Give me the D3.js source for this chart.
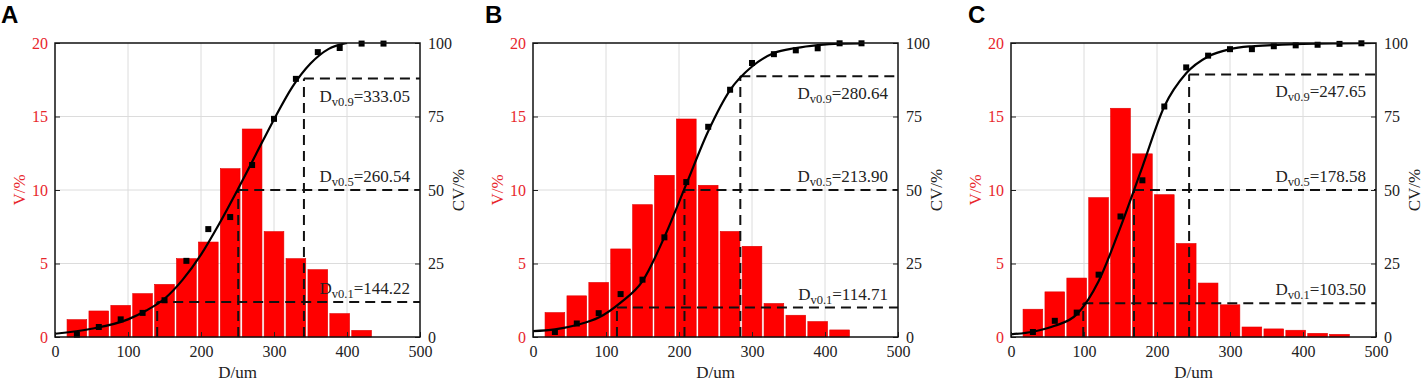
<!DOCTYPE html>
<html>
<head>
<meta charset="utf-8">
<script src="https://cdn.jsdelivr.net/npm/d3@7"></script>
<style>
  body { margin: 0; background: #fff; }
  text { font-family: "Liberation Serif", "Times New Roman", serif; }
</style>
</head>
<body>
<div id="chart"></div>
<script>
// bar centres (um) and volume fractions V/%
const binsA = [30, 60, 90, 120, 150, 180, 210, 240, 270, 300, 330, 360, 390, 420];
const binsB = [30, 60, 90, 120, 150, 180, 210, 240, 270, 300, 330, 360, 390, 420];
const binsC = [30, 60, 90, 120, 150, 180, 210, 240, 270, 300, 330, 360, 390, 420, 450];
const volA = [1.18, 1.77, 2.15, 2.95, 3.58, 5.33, 6.46, 11.45, 14.15, 7.17, 5.33, 4.58, 1.59, 0.45];
const volB = [1.66, 2.80, 3.71, 5.99, 9.0, 11.0, 14.83, 10.32, 7.18, 6.17, 2.28, 1.48, 1.05, 0.48];
const volC = [1.89, 3.07, 4.01, 9.48, 15.56, 12.46, 9.68, 6.36, 3.67, 2.19, 0.68, 0.55, 0.46, 0.25, 0.18];

// cumulative volume CV/% (square markers)
const cvXA = [30, 60, 90, 120, 150, 180, 210, 240, 270, 300, 330, 360, 390, 420, 450];
const cvXB = [30, 60, 90, 120, 150, 180, 210, 240, 270, 300, 330, 360, 390, 420, 450];
const cvXC = [30, 60, 90, 120, 150, 180, 210, 240, 270, 300, 330, 360, 390, 420, 450, 480];
const cvA = [0.8, 3.4, 6, 8.2, 12.5, 25.9, 36.7, 40.8, 58.5, 74.2, 87.8, 96.9, 98.3, 99.8, 99.8];
const cvB = [1.7, 4.6, 8.1, 14.6, 19.5, 33.9, 52.7, 71.5, 84.1, 93.2, 96.2, 97.5, 98.2, 99.9, 99.9];
const cvC = [1.7, 5.5, 8.3, 21.2, 41.0, 53.3, 78.4, 91.7, 95.7, 97.9, 97.9, 98.9, 99.2, 99.4, 99.7, 99.9];

// fitted curve
const fitXA = [0, 50, 100, 125, 150, 175, 200, 225, 250, 275, 300, 325, 350, 375, 400];
const fitA = [1.1, 2.8, 6, 9, 13, 19.5, 28, 38.5, 50, 62, 74, 85, 93, 98, 100];
const fitXB = [0, 30, 60, 90, 120, 150, 180, 210, 240, 270, 300, 330, 360, 390, 420, 450];
const fitB = [2.0, 2.6, 4.1, 6.6, 11.7, 19, 34, 52, 70, 84, 92, 96.6, 98.3, 99.3, 99.8, 99.9];
const fitXC = [0, 30, 60, 90, 120, 150, 180, 210, 240, 270, 300, 330, 360, 400, 450, 500];
const fitC = [0.9, 1.8, 3.8, 7.7, 19, 37.4, 57.9, 78.4, 89.7, 95.4, 97.9, 98.9, 99.3, 99.7, 99.9, 100];

// characteristic diameters: dashed guide positions and label texts
const dSubs = ["v0.1", "v0.5", "v0.9"];
const dLevelA = [11.9, 50, 87.9], dXA = [140, 251, 341], dTextA = ["144.22", "260.54", "333.05"];
const dLevelB = [10.0, 50, 88.7], dXB = [115, 207.5, 284], dTextB = ["114.71", "213.90", "280.64"];
const dLevelC = [11.5, 50, 89.3], dXC = [99, 168.5, 244], dTextC = ["103.50", "178.58", "247.65"];

const xTicks = [0, 100, 200, 300, 400, 500];
const vTicks = [0, 5, 10, 15, 20];
const cvTicks = [0, 25, 50, 75, 100];

const panels = [
  {letter: "A", bins: binsA, vol: volA, cvX: cvXA, cv: cvA, fitX: fitXA, fit: fitA, dLevel: dLevelA, dX: dXA, dText: dTextA},
  {letter: "B", bins: binsB, vol: volB, cvX: cvXB, cv: cvB, fitX: fitXB, fit: fitB, dLevel: dLevelB, dX: dXB, dText: dTextB},
  {letter: "C", bins: binsC, vol: volC, cvX: cvXC, cv: cvC, fitX: fitXC, fit: fitC, dLevel: dLevelC, dX: dXC, dText: dTextC}
];

const red = "#e8262b";
const serif = "'Liberation Serif', 'Times New Roman', serif";
const svg = d3.select("#chart").append("svg")
  .attr("width", 1424)
  .attr("height", 383);

const plotLeft = [55, 533, 1011];
const letterX = [1, 485, 968];
const plotTop = 43, plotBottom = 337, w = 365;
const h = plotBottom - plotTop;

const x = d3.scaleLinear().domain([0, 500]).range([0, w]);
const yV = d3.scaleLinear().domain([0, 20]).range([h, 0]);
const yCV = d3.scaleLinear().domain([0, 100]).range([h, 0]);

panels.forEach((p, i) => {
  svg.append("text")
    .attr("x", letterX[i])
    .attr("y", 23)
    .style("font-family", "'Liberation Sans', Arial, sans-serif")
    .style("font-weight", "bold")
    .style("font-size", "24px")
    .text(p.letter);

  const g = svg.append("g").attr("transform", `translate(${plotLeft[i]},${plotTop})`);

  svg.append("clipPath").attr("id", `clip${i}`)
    .append("rect").attr("width", w).attr("height", h);

  /*
  Grid
  */
  g.selectAll(".gx").data([100, 200, 300, 400]).enter().append("line")
    .attr("x1", d => x(d)).attr("x2", d => x(d))
    .attr("y1", 0).attr("y2", h)
    .attr("stroke", "#dcdcdc").attr("stroke-width", 1);
  g.selectAll(".gy").data([5, 10, 15]).enter().append("line")
    .attr("x1", 0).attr("x2", w)
    .attr("y1", d => yV(d)).attr("y2", d => yV(d))
    .attr("stroke", "#dcdcdc").attr("stroke-width", 1);

  /*
  Bars
  */
  const bw = x(27) - x(0);
  g.selectAll(".bar").data(p.vol).enter().append("rect")
    .attr("x", (d, j) => x(p.bins[j]) - bw / 2)
    .attr("y", d => yV(d))
    .attr("width", bw)
    .attr("height", d => h - yV(d))
    .attr("fill", "#ff0000")
    .attr("stroke", "#e00000")
    .attr("stroke-width", 0.6);

  /*
  Dashed guides
  */
  const dash = "10,6";
  p.dLevel.forEach((lv, j) => {
    g.append("line")
      .attr("x1", x(p.dX[j])).attr("x2", x(p.dX[j]))
      .attr("y1", h).attr("y2", yCV(lv))
      .attr("stroke", "#111").attr("stroke-width", 2)
      .attr("stroke-dasharray", dash);
    g.append("line")
      .attr("x1", x(p.dX[j])).attr("x2", w)
      .attr("y1", yCV(lv)).attr("y2", yCV(lv))
      .attr("stroke", "#111").attr("stroke-width", 2)
      .attr("stroke-dasharray", dash);
    const t = g.append("text")
      .attr("x", w - 10)
      .attr("y", j == 2 ? yCV(lv) + 23 : yCV(lv) - 8)
      .attr("text-anchor", "end")
      .style("font-family", serif)
      .style("font-size", "17px")
      .attr("fill", "#222");
    t.append("tspan").text("D");
    t.append("tspan").attr("dy", 4).style("font-size", "12.5px").text(dSubs[j]);
    t.append("tspan").attr("dy", -4).text("=" + p.dText[j]);
  });

  /*
  Fitted curve and markers
  */
  const line = d3.line()
    .x(d => x(d[0]))
    .y(d => yCV(d[1]))
    .curve(d3.curveMonotoneX);
  g.append("path")
    .datum(p.fitX.map((d, j) => [d, p.fit[j]]))
    .attr("d", line)
    .attr("clip-path", `url(#clip${i})`)
    .attr("fill", "none")
    .attr("stroke", "#000")
    .attr("stroke-width", 2.2);
  g.selectAll(".pt").data(p.cv).enter().append("rect")
    .attr("x", (d, j) => x(p.cvX[j]) - 3)
    .attr("y", d => yCV(d) - 3)
    .attr("width", 6).attr("height", 6)
    .attr("fill", "#000");

  /*
  Axes
  */
  const ax = g.append("g").attr("transform", `translate(0,${h})`)
    .call(d3.axisBottom(x).tickValues(xTicks).tickSize(-5).tickPadding(9));
  const al = g.append("g")
    .call(d3.axisLeft(yV).tickValues(vTicks).tickSize(-5).tickPadding(7));
  const ar = g.append("g").attr("transform", `translate(${w},0)`)
    .call(d3.axisRight(yCV).tickValues(cvTicks).tickSize(-5).tickPadding(8));
  [ax, al, ar].forEach(a => {
    a.select(".domain").remove();
    a.attr("font-family", serif).attr("font-size", 16);
    a.selectAll("text")
      .style("font-family", serif)
      .style("font-size", "16px");
    a.selectAll("line").attr("stroke", "#222");
  });
  ax.selectAll("text").attr("fill", "#222");
  al.selectAll("text").attr("fill", red);
  ar.selectAll("text").attr("fill", "#222");

  g.append("rect")
    .attr("width", w).attr("height", h)
    .attr("fill", "none")
    .attr("stroke", "#111")
    .attr("stroke-width", 1.5);

  g.append("text")
    .attr("x", w / 2).attr("y", h + 41)
    .attr("text-anchor", "middle")
    .style("font-family", serif)
    .style("font-size", "17px")
    .attr("fill", "#222")
    .text("D/um");
  g.append("text")
    .attr("transform", `translate(-30,${h / 2}) rotate(-90)`)
    .attr("text-anchor", "middle")
    .style("font-family", serif)
    .style("font-size", "17px")
    .attr("fill", red)
    .text("V/%");
  g.append("text")
    .attr("transform", `translate(${w + 44},${h / 2}) rotate(-90)`)
    .attr("text-anchor", "middle")
    .style("font-family", serif)
    .style("font-size", "17px")
    .attr("fill", "#222")
    .text("CV/%");
});
</script>
</body>
</html>
